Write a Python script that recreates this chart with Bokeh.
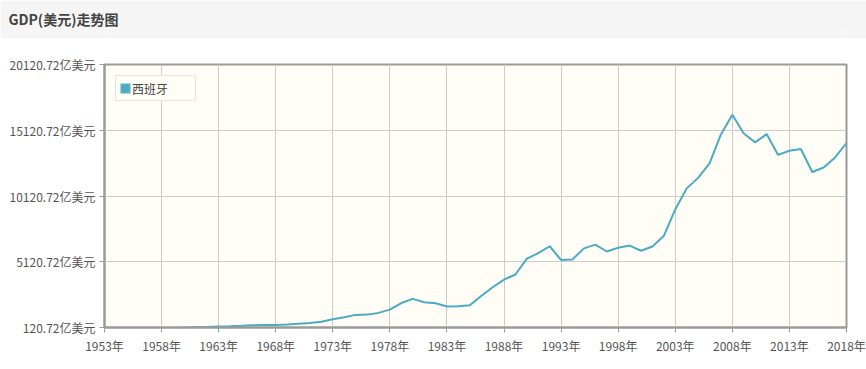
from bokeh.plotting import figure
from bokeh.models import (FixedTicker, CustomJSTickFormatter, Legend, LegendItem,
                          Range1d)
from bokeh.layouts import column
from bokeh.embed import file_html
from bokeh.resources import INLINE

title_text = "GDP(美元)走势图"
series_name = "西班牙"
years = list(range(1960, 2019))
gdp = [120.72, 138.3, 161.4, 190.7, 214.7, 247.6, 287.3, 316.5, 314.8, 356.3,
       410.0, 465.0, 565.0, 743.0, 905.0, 1080.0, 1100.0, 1230.0, 1480.0, 1980.0,
       2300.0, 2040.0, 1960.0, 1720.0, 1730.0, 1810.0, 2510.0, 3180.0, 3760.0, 4150.0,
       5360.0, 5770.0, 6300.0, 5250.0, 5300.0, 6140.0, 6420.0, 5900.0, 6190.0, 6350.0,
       5960.0, 6280.0, 7090.0, 9100.0, 10700.0, 11500.0, 12600.0, 14800.0, 16300.0, 14880.0,
       14200.0, 14830.0, 13250.0, 13560.0, 13690.0, 11950.0, 12290.0, 13050.0, 14150.0]
y_ticks = [120.72, 5120.72, 10120.72, 15120.72, 20120.72]
x_ticks = list(range(1953, 2019, 5))

FONT = "Noto Sans CJK SC"
W = 866
LEFT = 104

# header bar
hdr = figure(width=W, height=38, output_backend="svg", toolbar_location=None,
             x_range=Range1d(0, 1), y_range=Range1d(0, 1),
             x_axis_location=None, y_axis_location=None,
             min_border=0, min_border_left=0, min_border_right=0,
             min_border_top=28, min_border_bottom=0,
             background_fill_color="#f5f5f5", border_fill_color="#f5f5f5",
             title=title_text)
hdr.grid.visible = False
hdr.outline_line_color = None
hdr.title.align = "left"
hdr.title.offset = 8 - LEFT
hdr.title.text_font = FONT
hdr.title.text_font_size = "14px"
hdr.title.text_font_style = "bold"
hdr.title.text_color = "#444444"
hdr.title.standoff = 0

p = figure(width=W, height=331, output_backend="svg", toolbar_location=None,
           x_range=Range1d(1953, 2018), y_range=Range1d(120.72, 20120.72),
           min_border_left=LEFT, min_border_right=20, min_border_top=26, min_border_bottom=42,
           background_fill_color="#fffdf6", border_fill_color="white")

r = p.line(years, gdp, line_color="#4aabc3", line_width=2)

p.xaxis.ticker = FixedTicker(ticks=x_ticks)
p.yaxis.ticker = FixedTicker(ticks=y_ticks)
p.xaxis.formatter = CustomJSTickFormatter(code="return tick.toFixed(0) + '年';")
p.yaxis.formatter = CustomJSTickFormatter(code="return tick.toFixed(2) + '亿美元';")
for ax in (p.xaxis, p.yaxis):
    ax.axis_line_color = "#9a9a9a"
    ax.axis_line_width = 2
    ax.major_tick_line_color = "#9a9a9a"
    ax.major_tick_out = 5
    ax.major_tick_in = 0
    ax.minor_tick_line_color = None
    ax.major_label_text_font = FONT
    ax.major_label_text_font_size = "12px"
    ax.major_label_text_color = "#555555"
p.yaxis.major_label_standoff = 4
p.xaxis.major_label_standoff = 4

p.grid.grid_line_color = "#cccccc"
p.grid.grid_line_width = 1
p.outline_line_color = "#9a9a9a"
p.outline_line_width = 2

nan = float("nan")
sq = p.quad(left=[nan], right=[nan], top=[nan], bottom=[nan], fill_color="#4aabc3",
            line_color="#9fd3e0", line_width=1)
legend = Legend(items=[LegendItem(label=series_name, renderers=[sq])],
                location="top_left", margin=11, padding=3, spacing=0,
                label_text_font=FONT, label_text_font_size="12px",
                label_text_color="#444444", label_width=60, label_height=18,
                label_standoff=1, glyph_width=12, glyph_height=12,
                border_line_color="#cccccc", background_fill_color="#fffdf6",
                background_fill_alpha=1)
p.add_layout(legend)

layout = column(hdr, p, spacing=0)
open("out.html", "w").write(file_html(layout, INLINE))
